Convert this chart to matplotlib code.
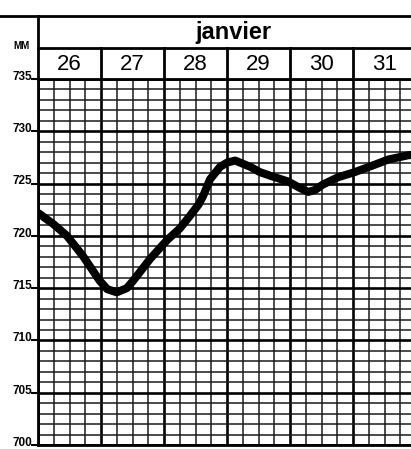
import matplotlib
matplotlib.use("Agg")
import numpy as np
from matplotlib import pyplot as plt
from matplotlib.lines import Line2D
from matplotlib.transforms import blended_transform_factory

# pressure readings (mm Hg), x in days since the start of the 26th
days = ["26", "27", "28", "29", "30", "31"]
t = [0.00, 0.25, 0.46, 0.71, 0.98, 1.10, 1.25, 1.41, 1.51, 1.78, 2.05, 2.25, 2.41,
     2.55, 2.62, 2.73, 2.89, 3.00, 3.13, 3.37, 3.52, 3.71, 3.97, 4.15, 4.29, 4.40,
     4.52, 4.76, 5.03, 5.30, 5.56, 5.87, 6.00]
mm = [722.2, 721.1, 720.0, 718.1, 715.7, 714.9, 714.6, 715.0, 715.7, 717.8, 719.6, 720.7, 721.9,
      723.0, 723.8, 725.4, 726.6, 727.0, 727.2, 726.6, 726.1, 725.7, 725.2, 724.6, 724.2, 724.4,
      724.9, 725.6, 726.1, 726.7, 727.3, 727.7, 727.8]
yticks = [700, 705, 710, 715, 720, 725, 730, 735]

W, H = 411, 449
fig = plt.figure(figsize=(W / 100, H / 100), dpi=100)
fig.patch.set_facecolor("white")

ax = fig.add_axes([38 / W, 1 - 445 / H, (416 - 38) / W, (445 - 79) / H])
ax.set_xlim(0, 6)
ax.set_ylim(700, 735)

ax.set_yticks(yticks)
ax.set_yticklabels([])
ax.set_yticks(np.arange(700, 736, 1), minor=True)
ax.set_xticks(range(7))
ax.set_xticks(np.arange(0, 6.01, 0.25), minor=True)
ax.set_xticklabels([])
ax.tick_params(axis="y", which="major", length=5, width=1.5)
ax.tick_params(axis="y", which="minor", length=0)
ax.tick_params(axis="x", which="both", length=0)

# labels sit a touch above their line, like on the printed chart
ytrans = blended_transform_factory(ax.transAxes, ax.transData)
for v in yticks:
    ax.text(-0.0145, v + 0.2, str(v), transform=ytrans, ha="right", va="center",
            fontsize=8.5, fontweight="bold", family="Liberation Sans", clip_on=False)

ax.grid(which="major", color="black", lw=1.9)
ax.grid(which="minor", color="#1a1a1a", lw=1.1)
ax.set_axisbelow(True)
for s in ax.spines.values():
    s.set_linewidth(2)

ax.plot(t, mm, color="black", lw=5.8, solid_capstyle="round",
        solid_joinstyle="round", zorder=5, clip_on=True)

# header: day labels row and month row
def fx(x):
    return x / W

def fy(y):
    return 1 - y / H

fig.add_artist(Line2D([0, 1], [fy(16), fy(16)], color="black", lw=2))
fig.add_artist(Line2D([fx(38), fx(38)], [fy(16), fy(79)], color="black", lw=2))
fig.add_artist(Line2D([fx(38), 1], [fy(48), fy(48)], color="black", lw=2))

trans = blended_transform_factory(ax.transData, fig.transFigure)
for i, d in enumerate(days):
    ax.text(i + 0.5, fy(64), d, transform=trans, ha="center", va="center",
            fontsize=16, family="Liberation Sans")
    if i > 0:
        ax.add_artist(Line2D([i, i], [fy(48), fy(79)], transform=trans,
                             color="black", lw=2, clip_on=False))

fig.text(fx(233), fy(32), "janvier", ha="center", va="center", fontsize=17,
         fontweight="bold", family="Liberation Sans")
fig.text(fx(21), fy(46), "MM", ha="center", va="center", fontsize=7,
         fontweight="bold", family="Liberation Sans")

fig.savefig("out.png", dpi=100)
